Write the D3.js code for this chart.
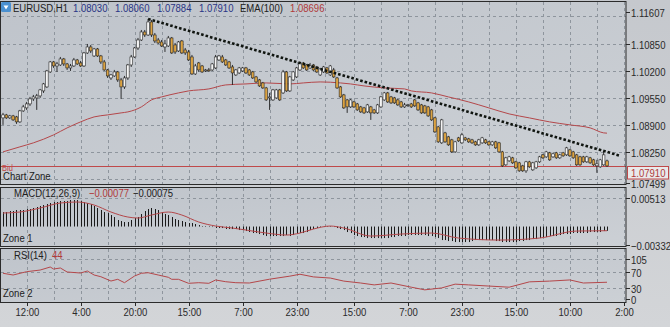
<!DOCTYPE html>
<html><head><meta charset="utf-8">
<script src="https://cdn.jsdelivr.net/npm/d3@7"></script>
<style>
html,body{margin:0;padding:0;background:#cfd2d6;}
svg{display:block;}
text{font-family:'Liberation Sans',Arial,sans-serif;}
</style></head><body>
<svg id="c" width="670" height="327"></svg>
<script>
const openP = [1.09063,1.09135,1.09063,1.09111,1.09087,1.08967,1.09231,1.09303,1.09399,1.09519,1.09543,1.09591,1.09711,1.09807,1.10167,1.10407,1.10311,1.10335,1.10479,1.10359,1.10263,1.10311,1.10455,1.10383,1.10311,1.10623,1.10767,1.10551,1.10719,1.10551,1.10407,1.10215,1.10023,1.10071,1.10167,1.09975,1.09807,1.10023,1.10335,1.10527,1.10743,1.10935,1.11127,1.11055,1.11367,1.11055,1.10935,1.10887,1.10767,1.10791,1.10983,1.10815,1.10671,1.10911,1.10695,1.10647,1.10527,1.10119,1.10383,1.10311,1.10191,1.10215,1.10215,1.10263,1.10455,1.10527,1.10455,1.10407,1.10287,1.10095,1.10143,1.10191,1.10263,1.10215,1.10167,1.10047,1.09975,1.09903,1.09783,1.09543,1.09495,1.09543,1.09735,1.09663,1.10167,1.09711,1.09975,1.10047,1.10215,1.10383,1.10335,1.10263,1.10335,1.10287,1.10095,1.10167,1.10263,1.10095,1.10215,1.10023,1.09807,1.09615,1.09495,1.09327,1.09447,1.09399,1.09327,1.09303,1.09207,1.09327,1.09255,1.09183,1.09327,1.09495,1.09663,1.09567,1.09543,1.09495,1.09447,1.09327,1.09375,1.09399,1.09495,1.09423,1.09375,1.09351,1.09327,1.09255,1.09063,1.08847,1.08463,1.08703,1.08607,1.08535,1.08247,1.08583,1.08463,1.08583,1.08559,1.08535,1.08487,1.08415,1.08463,1.08535,1.08487,1.08415,1.08487,1.08463,1.08247,1.07935,1.08031,1.08103,1.08007,1.07983,1.07911,1.07791,1.08007,1.07815,1.07863,1.08007,1.08175,1.08127,1.08223,1.08127,1.08223,1.08103,1.08223,1.08175,1.08295,1.08247,1.08175,1.08127,1.08127,1.08007,1.08103,1.08055,1.07911,1.07887,1.07935,1.08030];
const highP = [1.09183,1.09159,1.09135,1.09135,1.09111,1.09255,1.09375,1.09447,1.09567,1.09615,1.09639,1.09759,1.09903,1.10215,1.10431,1.10431,1.10407,1.10527,1.10503,1.10383,1.10359,1.10503,1.10479,1.10431,1.10647,1.10839,1.10815,1.10743,1.10743,1.10575,1.10455,1.10239,1.10119,1.10215,1.10191,1.10023,1.10071,1.10359,1.10575,1.10767,1.10983,1.11175,1.11175,1.11439,1.11415,1.11103,1.10983,1.10935,1.10935,1.11031,1.11007,1.10863,1.10911,1.10935,1.10743,1.10695,1.10575,1.10359,1.10407,1.10335,1.10239,1.10263,1.10383,1.10575,1.10575,1.10575,1.10479,1.10431,1.10335,1.10239,1.10287,1.10287,1.10287,1.10239,1.10191,1.10071,1.09999,1.09927,1.09807,1.09663,1.09759,1.09759,1.09759,1.10215,1.10191,1.10071,1.10191,1.10287,1.10407,1.10407,1.10359,1.10383,1.10359,1.10311,1.10263,1.10311,1.10287,1.10335,1.10263,1.10047,1.09831,1.09639,1.09519,1.09519,1.09471,1.09423,1.09351,1.09327,1.09399,1.09351,1.09279,1.09399,1.09591,1.09687,1.09687,1.09591,1.09567,1.09519,1.09471,1.09423,1.09399,1.09423,1.09519,1.09447,1.09399,1.09375,1.09351,1.09279,1.09087,1.08871,1.09039,1.08727,1.08631,1.08559,1.08511,1.08607,1.08703,1.08607,1.08583,1.08559,1.08511,1.08559,1.08607,1.08559,1.08511,1.08511,1.08511,1.08487,1.08271,1.08127,1.08151,1.08127,1.08031,1.08007,1.07935,1.08031,1.08031,1.08007,1.08031,1.08151,1.08199,1.08271,1.08247,1.08223,1.08247,1.08199,1.08247,1.08367,1.08319,1.08271,1.08199,1.08151,1.08151,1.08151,1.08127,1.08079,1.08055,1.08079,1.08247,1.08060];
const lowP = [1.08895,1.09039,1.09039,1.08991,1.08919,1.08943,1.09207,1.09255,1.09351,1.09471,1.09255,1.09543,1.09663,1.09783,1.10143,1.10263,1.10167,1.10311,1.10311,1.10215,1.10191,1.10287,1.10335,1.10287,1.10287,1.10599,1.10623,1.10527,1.10527,1.10359,1.10191,1.10023,1.09975,1.10047,1.09927,1.09519,1.09759,1.09975,1.10287,1.10503,1.10695,1.10911,1.11007,1.11031,1.11007,1.10863,1.10839,1.10767,1.10647,1.10767,1.10599,1.10599,1.10647,1.10599,1.10575,1.10431,1.10095,1.10095,1.10167,1.10143,1.10167,1.10167,1.10191,1.10239,1.10431,1.10383,1.10311,1.10239,1.09855,1.10071,1.10119,1.10167,1.10119,1.10071,1.09999,1.09903,1.09807,1.09759,1.09471,1.09255,1.09471,1.09519,1.09471,1.09639,1.09687,1.09687,1.09951,1.10023,1.10191,1.10239,1.10191,1.10239,1.10191,1.10143,1.10071,1.10143,1.10119,1.10071,1.10023,1.09759,1.09543,1.09279,1.09183,1.09303,1.09303,1.09231,1.09183,1.09159,1.09183,1.09015,1.09159,1.09159,1.09303,1.09471,1.09423,1.09399,1.09399,1.09351,1.09303,1.09303,1.09327,1.09303,1.09327,1.09231,1.09159,1.09159,1.09087,1.08991,1.08703,1.08463,1.08439,1.08463,1.08391,1.08223,1.08223,1.08487,1.08439,1.08511,1.08463,1.08439,1.08391,1.08391,1.08439,1.08439,1.08391,1.08391,1.08319,1.08223,1.07887,1.07911,1.08007,1.07959,1.07839,1.07767,1.07767,1.07743,1.07863,1.07791,1.07839,1.07983,1.08079,1.08103,1.08031,1.08103,1.08079,1.08079,1.08127,1.08151,1.08127,1.08079,1.07911,1.07911,1.07983,1.07983,1.07959,1.07911,1.07743,1.07863,1.07911,1.07884];
const closeP = [1.09135,1.09063,1.09111,1.09015,1.08967,1.09231,1.09327,1.09399,1.09519,1.09567,1.09591,1.09735,1.09879,1.10191,1.10407,1.10311,1.10359,1.10479,1.10359,1.10263,1.10311,1.10455,1.10359,1.10311,1.10623,1.10767,1.10671,1.10719,1.10551,1.10407,1.10215,1.10071,1.10095,1.10167,1.09975,1.09807,1.10023,1.10335,1.10527,1.10743,1.10935,1.11127,1.11055,1.11367,1.11055,1.10911,1.10863,1.10791,1.10839,1.10983,1.10623,1.10647,1.10887,1.10623,1.10623,1.10455,1.10119,1.10311,1.10215,1.10167,1.10215,1.10191,1.10359,1.10527,1.10551,1.10407,1.10335,1.10263,1.10143,1.10215,1.10263,1.10263,1.10143,1.10095,1.10023,1.09927,1.09831,1.09783,1.09495,1.09567,1.09735,1.09735,1.09495,1.10167,1.09711,1.10047,1.10167,1.10263,1.10383,1.10263,1.10215,1.10311,1.10215,1.10167,1.10239,1.10287,1.10143,1.10311,1.10047,1.09783,1.09567,1.09303,1.09327,1.09495,1.09327,1.09255,1.09207,1.09183,1.09375,1.09183,1.09183,1.09375,1.09567,1.09663,1.09447,1.09423,1.09423,1.09375,1.09327,1.09375,1.09375,1.09327,1.09351,1.09255,1.09183,1.09183,1.09111,1.09015,1.08727,1.08487,1.09015,1.08487,1.08415,1.08247,1.08487,1.08511,1.08655,1.08535,1.08487,1.08463,1.08415,1.08535,1.08583,1.08463,1.08415,1.08487,1.08343,1.08247,1.07911,1.08103,1.08127,1.07983,1.07863,1.07791,1.07791,1.08007,1.07887,1.07983,1.08007,1.08127,1.08103,1.08247,1.08055,1.08199,1.08103,1.08175,1.08151,1.08343,1.08151,1.08103,1.07935,1.07935,1.08007,1.08127,1.07983,1.07935,1.07959,1.08055,1.08175,1.07910];

const emaBars = [0,5,9,15,19,23,27,31,35,37,41,44,47,52,55,61,66,72,78,85,89,94,100,103,107,113,119,121,127,132,138,144,150,156,162,168,174,178,179];
const emaVals = [1.08247,1.08367,1.08463,1.08655,1.08823,1.08967,1.09087,1.09135,1.09183,1.09207,1.09327,1.09495,1.09567,1.09663,1.09711,1.09759,1.09855,1.09879,1.09903,1.09879,1.09903,1.09927,1.09903,1.09879,1.09831,1.09783,1.09759,1.09711,1.09663,1.09567,1.09447,1.09303,1.09159,1.09063,1.08967,1.08895,1.08823,1.08703,1.08696];

const macdHist = [0.00261,0.00261,0.00279,0.00279,0.00297,0.00297,0.00297,0.00315,0.00315,0.00333,0.00351,0.00369,0.00387,0.00405,0.00423,0.00441,0.00441,0.00459,0.00459,0.00459,0.00477,0.00477,0.00477,0.00459,0.00441,0.00423,0.00405,0.00369,0.00333,0.00297,0.00261,0.00243,0.00207,0.00171,0.00117,0.00099,0.00081,0.00081,0.00117,0.00153,0.00171,0.00225,0.00279,0.00315,0.00333,0.00315,0.00297,0.00261,0.00225,0.00207,0.00171,0.00135,0.00117,0.00099,0.00081,0.00063,0.00063,0.00045,0.00027,0.00009,0.00009,-0.00009,-0.00009,-0.00027,-0.00027,-0.00027,-0.00045,-0.00045,-0.00045,-0.00045,-0.00063,-0.00063,-0.00081,-0.00099,-0.00117,-0.00117,-0.00135,-0.00153,-0.00171,-0.00171,-0.00171,-0.00171,-0.00171,-0.00171,-0.00153,-0.00171,-0.00153,-0.00135,-0.00117,-0.00117,-0.00099,-0.00063,-0.00045,-0.00027,-0.00009,-0.00009,0.00009,0.00009,-0.00009,-0.00027,-0.00045,-0.00063,-0.00099,-0.00117,-0.00153,-0.00171,-0.00189,-0.00189,-0.00207,-0.00207,-0.00207,-0.00207,-0.00207,-0.00207,-0.00207,-0.00189,-0.00189,-0.00171,-0.00171,-0.00171,-0.00153,-0.00153,-0.00153,-0.00153,-0.00153,-0.00153,-0.00171,-0.00171,-0.00189,-0.00207,-0.00243,-0.00243,-0.00261,-0.00261,-0.00279,-0.00279,-0.00279,-0.00279,-0.00279,-0.00261,-0.00243,-0.00243,-0.00243,-0.00243,-0.00243,-0.00243,-0.00261,-0.00261,-0.00279,-0.00279,-0.00279,-0.00279,-0.00279,-0.00261,-0.00261,-0.00243,-0.00243,-0.00225,-0.00225,-0.00207,-0.00189,-0.00189,-0.00171,-0.00171,-0.00171,-0.00153,-0.00135,-0.00135,-0.00135,-0.00117,-0.00117,-0.00117,-0.00117,-0.00117,-0.00099,-0.00099,-0.00099,-0.00099,-0.00081,-0.00077];
const signalBars = [0,5,11,17,22,27,32,37,40,44,49,53,58,63,68,72,78,84,88,92,97,101,109,118,127,135,147,159,170,179];
const signalVals = [0.00243,0.00261,0.00333,0.00423,0.00441,0.00387,0.00261,0.00171,0.00153,0.00207,0.00261,0.00207,0.00081,0.00009,-0.00027,-0.00063,-0.00117,-0.00153,-0.00117,-0.00045,0.00009,-0.00027,-0.00171,-0.00135,-0.00117,-0.00207,-0.00243,-0.00207,-0.00081,-0.00075];

const rsiBars = [0,3,7,11,14,15,17,19,23,25,27,29,32,34,36,39,41,43,46,49,50,52,55,58,61,63,66,69,73,79,85,88,92,97,101,106,110,115,121,125,130,134,138,144,150,156,162,168,172,179];
const rsiVals = [67.5,63,71.7,76,84,78.7,81.4,70.9,68.2,73.5,63,58.5,47.2,51.7,42.8,60.4,67.5,69,63,57,51.7,51.7,41.2,42.8,41.2,49.9,45.4,42.8,42,52,60,65,58,55,47,42,37,42,31,24,29,39,37,34,31,45,47,50,42,44];

const priceTicks = [1.11607,1.10850,1.10200,1.09550,1.08900,1.08250,1.07499];
const priceGrid = [1.11500,1.10850,1.10200,1.09550,1.08900,1.08250,1.07600];
const macdTicks = [0.00513,-0.00332];
const rsiTicks = [105,70,30,0];
const rsiGrid = [105,70,30];
const timeTickBars = [7,23,39,55,71,87,104,120,136,152,168,184];
const timeLabels = ['12:00','4:00','20:00','15:00','7:00','23:00','15:00','7:00','23:00','15:00','10:00','2:00'];
const trendBars = [43,183];
const trendVals = [1.11439,1.08151];
const symbol = 'EURUSD,H1';

const svg = d3.select('#c');
const W = 670, H = 327, R = 626;
const P = {main:[1,184], macd:[187,246], rsi:[248,302]};
const N = closeP.length;
const x = d3.scaleLinear().domain([0, N-1]).range([3, 607]);
const y = d3.scaleLinear().domain([1.07475, 1.11871]).range([184, 1]);
const ym = d3.scaleLinear().domain([-0.00332, 0.00513]).range([245, 198]);
const yr = d3.scaleLinear().domain([0, 105]).range([299, 259]);
const f5 = d3.format('.5f');
const SX = 0.83;

function txt(g, xx, yy, s, color, size, anchor){
  return g.append('text')
    .attr('transform', `translate(${xx},${yy}) scale(${SX},1)`)
    .attr('font-size', size || 11)
    .attr('fill', color || '#202020')
    .attr('text-anchor', anchor || 'start')
    .text(s);
}

const defs = svg.append('defs');
const g1 = defs.append('linearGradient').attr('id','bg').attr('x1',0).attr('y1',0).attr('x2',0).attr('y2',1);
g1.append('stop').attr('offset','0%').attr('stop-color','#c5c8cd');
g1.append('stop').attr('offset','100%').attr('stop-color','#d3d5d8');
const g2 = defs.append('linearGradient').attr('id','pbg').attr('x1',0).attr('y1',0).attr('x2',1).attr('y2',1);
g2.append('stop').attr('offset','0%').attr('stop-color','#bfc4cb');
g2.append('stop').attr('offset','100%').attr('stop-color','#ccd0d5');

svg.append('rect').attr('width',W).attr('height',H).attr('fill','url(#bg)');

Object.values(P).forEach(([t,b]) => {
  svg.append('rect').attr('x',0.5).attr('y',t+0.5).attr('width',R-0.5).attr('height',b-t)
    .attr('fill','url(#pbg)');
});

// vertical grid every 8 bars (label ticks and midpoints)
const vgrid = [];
timeTickBars.forEach((b,i)=>{ vgrid.push(b); if(i<timeTickBars.length-1) vgrid.push((b+timeTickBars[i+1])/2); });
Object.values(P).forEach(([t,b]) => {
  svg.append('g').selectAll('line').data(vgrid.filter(v=>x(v)<R-2)).join('line')
    .attr('x1',d=>Math.round(x(d))+0.5).attr('x2',d=>Math.round(x(d))+0.5)
    .attr('y1',t+1).attr('y2',b)
    .attr('stroke','#8e959d').attr('stroke-width',1).attr('stroke-dasharray','3,3');
});
svg.append('g').selectAll('line').data(priceGrid).join('line')
  .attr('x1',1).attr('x2',R).attr('y1',d=>Math.round(y(d))+0.5).attr('y2',d=>Math.round(y(d))+0.5)
  .attr('stroke','#8e959d').attr('stroke-dasharray','3,3');
svg.append('line').attr('x1',1).attr('x2',R).attr('y1',Math.round(ym(macdTicks[0]))+0.5).attr('y2',Math.round(ym(macdTicks[0]))+0.5)
  .attr('stroke','#8e959d').attr('stroke-dasharray','3,3');
svg.append('g').selectAll('line').data(rsiGrid).join('line')
  .attr('x1',1).attr('x2',R).attr('y1',d=>Math.round(yr(d))+0.5).attr('y2',d=>Math.round(yr(d))+0.5)
  .attr('stroke','#8e959d').attr('stroke-dasharray','3,3');

// EMA
svg.append('path').datum(emaBars.map((b,i)=>[b,emaVals[i]]))
  .attr('d', d3.line().x(d=>x(d[0])).y(d=>y(d[1])).curve(d3.curveMonotoneX))
  .attr('fill','none').attr('stroke','#b4474a').attr('stroke-width',1);

// bid line
const bid = closeP[N-1];
svg.append('line').attr('x1',1).attr('x2',R).attr('y1',Math.round(y(bid))+0.5).attr('y2',Math.round(y(bid))+0.5)
  .attr('stroke','#c0494a').attr('stroke-width',1);

// candles
const cg = svg.append('g');
d3.range(N).forEach(i=>{
  const cx = x(i);
  const bull = closeP[i] >= openP[i];
  cg.append('line').attr('x1',cx).attr('x2',cx).attr('y1',y(highP[i])).attr('y2',y(lowP[i]))
    .attr('stroke','#1e1e1e').attr('stroke-width',0.9);
  const top = y(Math.max(openP[i],closeP[i])), bot = y(Math.min(openP[i],closeP[i]));
  cg.append('rect').attr('x',cx-1.3).attr('y',top).attr('width',2.6).attr('height',Math.max(bot-top,0.8))
    .attr('fill', bull ? '#f4f4f4' : '#dca341').attr('stroke','#2a2a2a').attr('stroke-width',0.6);
});

// trend line
svg.append('line').attr('x1',x(trendBars[0])).attr('y1',y(trendVals[0])).attr('x2',x(trendBars[1])).attr('y2',y(trendVals[1]))
  .attr('stroke','#101510').attr('stroke-width',2.6).attr('stroke-dasharray','2.6,2');

// MACD histogram
svg.append('g').selectAll('line').data(macdHist).join('line')
  .attr('x1',(d,i)=>Math.round(x(i))+0.5).attr('x2',(d,i)=>Math.round(x(i))+0.5)
  .attr('y1',ym(0)).attr('y2',d=>ym(d)).attr('stroke','#1a1a1a').attr('stroke-width',1);
svg.append('path').datum(signalBars.map((b,i)=>[b,signalVals[i]]))
  .attr('d', d3.line().x(d=>x(d[0])).y(d=>ym(d[1])).curve(d3.curveMonotoneX))
  .attr('fill','none').attr('stroke','#b4474a').attr('stroke-width',1);

// RSI
svg.append('path').datum(rsiBars.map((b,i)=>[b,rsiVals[i]]))
  .attr('d', d3.line().x(d=>x(d[0])).y(d=>yr(d[1])))
  .attr('fill','none').attr('stroke','#b4474a').attr('stroke-width',1);

// panel borders
Object.values(P).forEach(([t,b]) => {
  svg.append('rect').attr('x',0.5).attr('y',t+0.5).attr('width',R-0.5).attr('height',b-t)
    .attr('fill','none').attr('stroke','#2b2b2b').attr('stroke-width',1);
});

// right axes
const ax = svg.append('g');
function rightAxis(ticks, sc, fmt){
  ticks.forEach(t=>{
    const yy = Math.round(sc(t))+0.5;
    svg.append('line').attr('x1',R).attr('x2',R+4).attr('y1',yy).attr('y2',yy).attr('stroke','#2b2b2b');
    txt(ax, R+5, yy+4, fmt(t), '#2a2a2a', 11.5);
  });
}
rightAxis(priceTicks, y, f5);
rightAxis(macdTicks, ym, f5);
rightAxis(rsiTicks, yr, d3.format('d'));

// bid box
const by = Math.round(y(bid));
svg.append('rect').attr('x',R+1.5).attr('y',by+0.5).attr('width',41).attr('height',12.5)
  .attr('fill','#e9e9ea').attr('stroke','#c0494a');
txt(svg, R+5, by+10.5, f5(bid), '#b03a3a', 11.5);

// time axis
const tx = svg.append('g');
timeTickBars.forEach((b,i)=>{
  const xx = Math.round(x(b))+0.5;
  tx.append('line').attr('x1',xx).attr('x2',xx).attr('y1',302).attr('y2',306).attr('stroke','#2b2b2b');
  txt(tx, xx, 316, timeLabels[i], '#2a2a2a', 11.5, 'middle');
});

// header
const hd = svg.append('g');
svg.append('rect').attr('x',1).attr('y',2).attr('width',10).attr('height',10).attr('rx',1.5).attr('fill','#4a90d0');
svg.append('path').attr('d','M3.5 5.5 L8.5 5.5 L6 9.5 Z').attr('fill','#ffffff');
txt(hd, 13, 12, symbol, '#202020', 11.5);
[openP[N-1],highP[N-1],lowP[N-1],closeP[N-1]].forEach((v,i)=>{
  txt(hd, 73+i*42, 12, f5(v), '#2a3585', 11.5);
});
txt(hd, 240, 12, 'EMA(100)', '#202020', 11.5);
txt(hd, 290, 12, f5(emaVals[emaVals.length-1]), '#b03a3a', 11.5);

// zone labels
txt(svg, 2, 171, 'Bid', '#c0494a', 9);
txt(svg, 3, 180, 'Chart Zone', '#202020', 11.5);
txt(svg, 14, 197, 'MACD(12,26,9)', '#202020', 11.5);
txt(svg, 89, 197, f5(macdHist[N-1]), '#b03a3a', 11.5);
txt(svg, 133, 197, f5(signalVals[signalVals.length-1]), '#202020', 11.5);
txt(svg, 3, 242, 'Zone 1', '#202020', 11.5);
txt(svg, 14, 259, 'RSI(14)', '#202020', 11.5);
txt(svg, 52, 259, d3.format('d')(rsiVals[rsiVals.length-1]), '#b03a3a', 11.5);
txt(svg, 3, 297, 'Zone 2', '#202020', 11.5);
</script>
</body></html>
